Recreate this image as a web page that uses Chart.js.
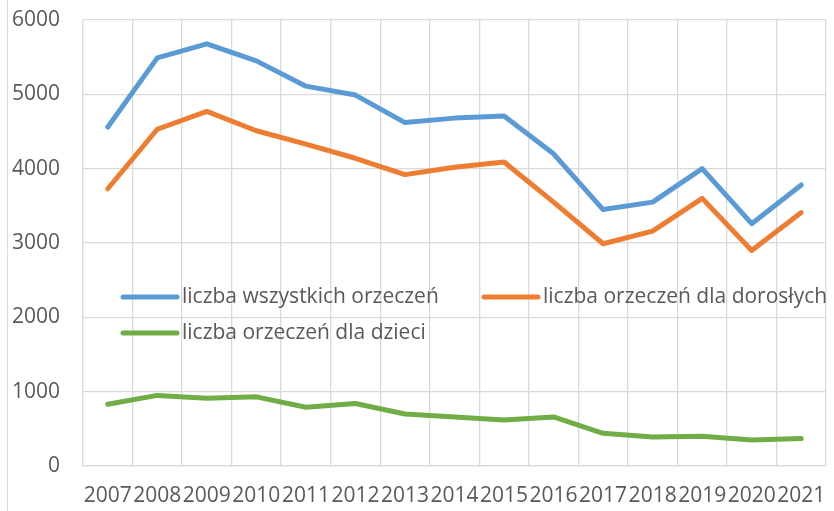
<!DOCTYPE html>
<html>
<head>
<meta charset="utf-8">
<script src="https://cdn.jsdelivr.net/npm/chart.js@4.4.0/dist/chart.umd.min.js"></script>
<style>
  html, body { margin: 0; padding: 0; background: #fff; }
  #wrap { width: 834px; height: 511px; position: relative; }
</style>
</head>
<body>
<div id="wrap"><canvas id="chart" width="834" height="511"></canvas></div>
<script>
// Data
const years = ['2007', '2008', '2009', '2010', '2011', '2012', '2013', '2014',
    '2015', '2016', '2017', '2018', '2019', '2020', '2021'];
const allRulings = [4560, 5490, 5680, 5450, 5110, 4990, 4620, 4680, 4710, 4200, 3450, 3550, 4000, 3260, 3780];
const adultRulings = [3730, 4530, 4770, 4510, 4330, 4140, 3920, 4020, 4090, 3550, 2990, 3160, 3600, 2900, 3410];
const childRulings = [830, 950, 910, 930, 790, 840, 700, 660, 620, 660, 440, 390, 400, 350, 370];
const yTicks = [0, 1000, 2000, 3000, 4000, 5000, 6000];

const textColor = '#595959';
const gridColor = '#d9d9d9';
const fontFamily = "'Open Sans', sans-serif";

// Legend drawn inside the plot area, like the original
const innerLegend = {
    id: 'innerLegend',
    afterDatasetsDraw(chart) {
        const ctx = chart.ctx;
        const spots = [
            { x: 123, y: 297 },
            { x: 484, y: 297 },
            { x: 123, y: 333 }
        ];
        ctx.save();
        ctx.font = '21px ' + fontFamily;
        ctx.textBaseline = 'middle';
        chart.data.datasets.forEach((ds, i) => {
            const p = spots[i];
            ctx.strokeStyle = ds.borderColor;
            ctx.lineWidth = 5;
            ctx.lineCap = 'round';
            ctx.beginPath();
            ctx.moveTo(p.x, p.y);
            ctx.lineTo(p.x + 54, p.y);
            ctx.stroke();
            ctx.fillStyle = textColor;
            ctx.fillText(ds.label, p.x + 59, p.y);
        });
        // left frame line
        ctx.strokeStyle = gridColor;
        ctx.lineWidth = 1;
        ctx.beginPath();
        ctx.moveTo(7.5, 0);
        ctx.lineTo(7.5, chart.height);
        ctx.stroke();
        ctx.restore();
    }
};

const ctx = document.getElementById('chart').getContext('2d');
new Chart(ctx, {
    type: 'line',
    data: {
        labels: years,
        datasets: [{
            label: 'liczba wszystkich orzeczeń',
            data: allRulings,
            borderColor: '#5b9bd5',
            backgroundColor: '#5b9bd5'
        }, {
            label: 'liczba orzeczeń dla dorosłych',
            data: adultRulings,
            borderColor: '#ed7d31',
            backgroundColor: '#ed7d31'
        }, {
            label: 'liczba orzeczeń dla dzieci',
            data: childRulings,
            borderColor: '#70ad47',
            backgroundColor: '#70ad47'
        }]
    },
    options: {
        responsive: false,
        animation: false,
        elements: {
            line: { borderWidth: 5, tension: 0, borderCapStyle: 'round', borderJoinStyle: 'round' },
            point: { radius: 0, hoverRadius: 0 }
        },
        layout: { padding: { top: 20, right: 8, left: 0, bottom: 0 } },
        plugins: {
            legend: { display: false },
            tooltip: { enabled: false }
        },
        scales: {
            x: {
                offset: true,
                grid: { color: gridColor, lineWidth: 1.3, offset: true, drawTicks: false },
                border: { color: gridColor, width: 1.3 },
                ticks: {
                    color: textColor,
                    font: { family: fontFamily, size: 21 },
                    padding: 17,
                    autoSkip: false,
                    maxRotation: 0,
                    minRotation: 0
                },
                afterFit(scale) {
                    scale.height = 45;
                    scale.paddingLeft = 0;
                    scale.paddingRight = 0;
                }
            },
            y: {
                min: 0,
                max: 6000,
                afterBuildTicks(scale) { scale.ticks = yTicks.map(v => ({ value: v })); },
                grid: { color: gridColor, lineWidth: 1.3, drawTicks: false },
                border: { display: false },
                ticks: {
                    color: textColor,
                    font: { family: fontFamily, size: 21 },
                    padding: 23,
                    callback: v => String(v)
                },
                afterFit(scale) {
                    scale.width = 83;
                    scale.paddingTop = 0;
                    scale.paddingBottom = 0;
                }
            }
        }
    },
    plugins: [innerLegend]
});
</script>
</body>
</html>
